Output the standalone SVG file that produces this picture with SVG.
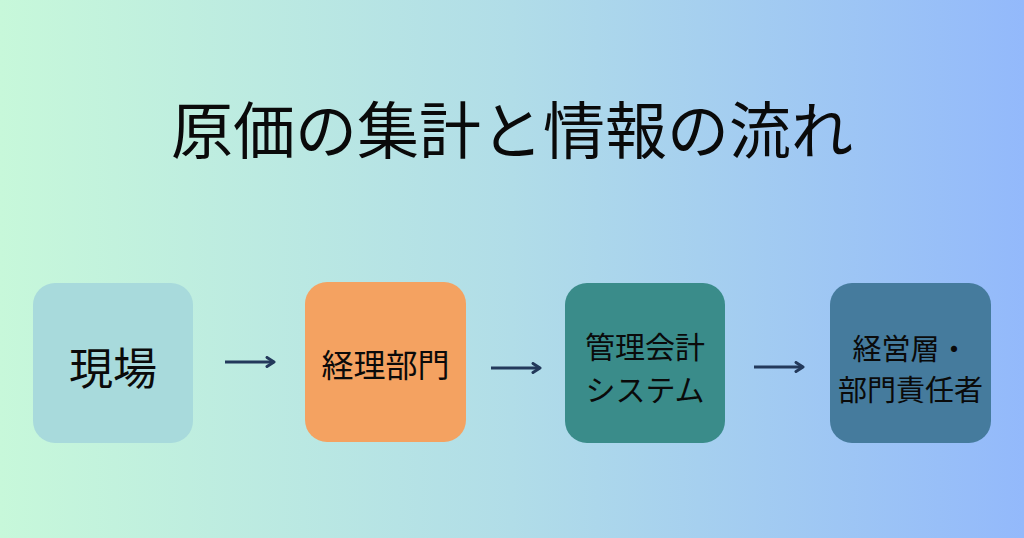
<svg xmlns="http://www.w3.org/2000/svg" width="1024" height="538" viewBox="0 0 1024 538">
<defs>
<linearGradient id="bg" x1="0" y1="0" x2="1" y2="0">
<stop offset="0" stop-color="#C7F8DA"/>
<stop offset="0.5" stop-color="#B1DDE8"/>
<stop offset="1" stop-color="#93B9FB"/>
</linearGradient>
<marker id="arr" viewBox="0 0 12 12" refX="10" refY="6" markerWidth="12" markerHeight="12" markerUnits="userSpaceOnUse" orient="auto">
<path d="M3,1.5 L10,6 L3,10.5" fill="none" stroke="#23395B" stroke-width="3" stroke-linecap="round" stroke-linejoin="round"/>
</marker>
</defs>
<style>
text{font-family:"Noto Sans CJK JP","Noto Sans",sans-serif;fill:#0a0a0a;text-anchor:middle;dominant-baseline:central}
.conn{stroke:#23395B;stroke-width:3;fill:none;marker-end:url(#arr)}
</style>
<rect width="1024" height="538" fill="url(#bg)"/>
<g id="title"><text x="512" y="127" font-size="62">原価の集計と情報の流れ</text></g>
<g id="node-genba">
<rect x="33" y="283" width="160" height="160" rx="22" fill="#A8DADC"/>
<text x="113" y="366" font-size="44">現場</text>
</g>
<g id="node-keiri">
<rect x="305" y="282" width="161" height="160" rx="22" fill="#F4A261"/>
<text x="385.5" y="363" font-size="32">経理部門</text>
</g>
<g id="node-system">
<rect x="565" y="283" width="160" height="160" rx="22" fill="#3A8C8A"/>
<text x="645" y="345" font-size="30">管理会計</text>
<text x="645" y="388" font-size="30">システム</text>
</g>
<g id="node-keiei">
<rect x="830" y="283" width="161" height="160" rx="22" fill="#457B9D"/>
<text x="910.5" y="347" font-size="29">経営層・</text>
<text x="910.5" y="388" font-size="29">部門責任者</text>
</g>
<g id="connectors">
<line class="conn" x1="225" y1="362" x2="274" y2="362"/>
<line class="conn" x1="491" y1="368" x2="540" y2="368"/>
<line class="conn" x1="754" y1="367" x2="803" y2="367"/>
</g>
</svg>
